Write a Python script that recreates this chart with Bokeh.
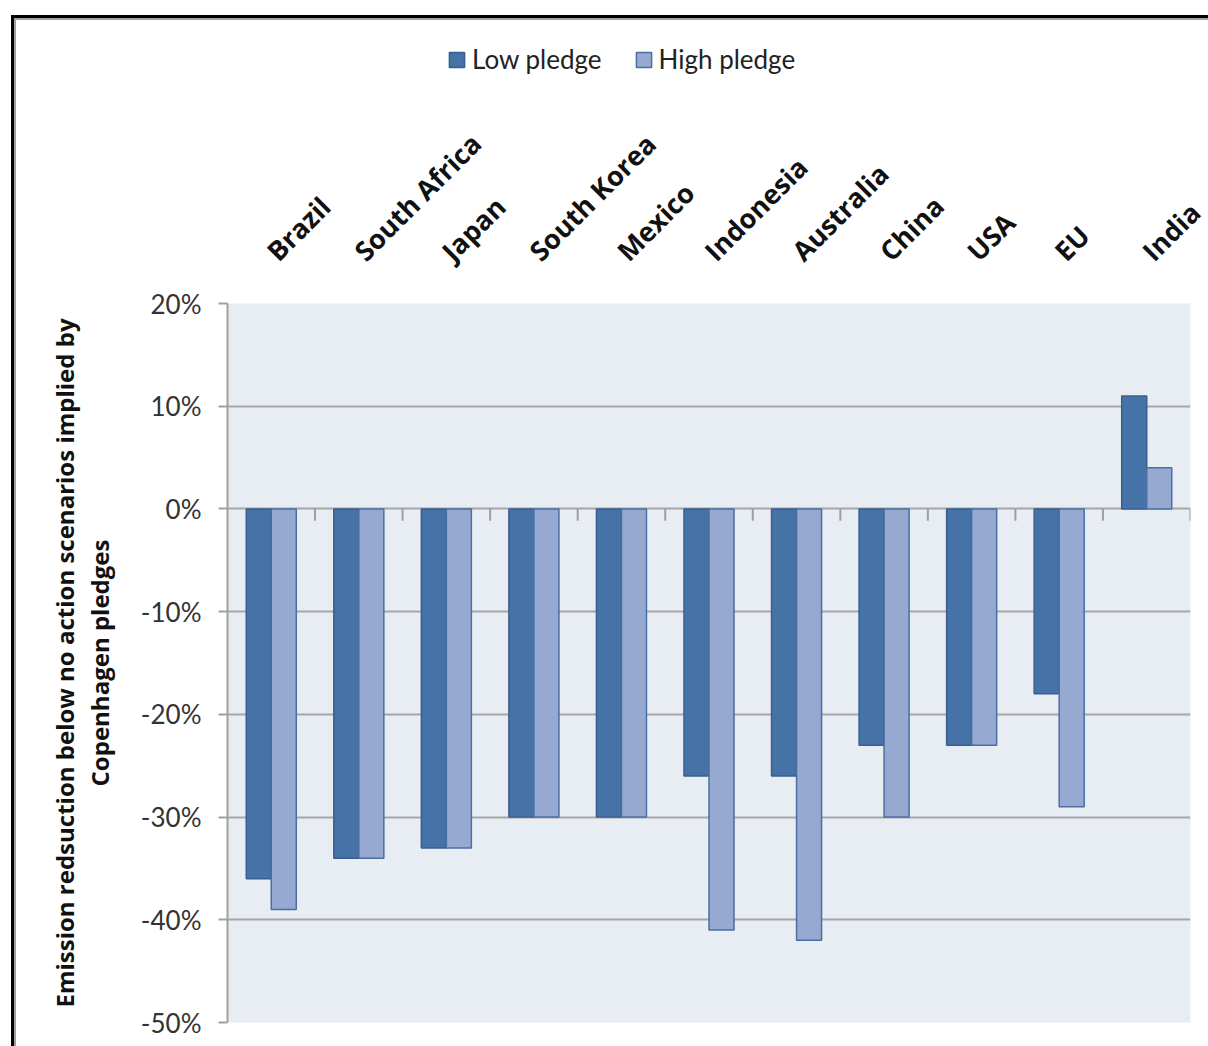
import math
from bokeh.plotting import figure
from bokeh.layouts import column
from bokeh.models import (FactorRange, Range1d, ColumnDataSource, Legend, LegendItem,
                          PrintfTickFormatter, FixedTicker)
from bokeh.transform import dodge
from bokeh.embed import file_html
from bokeh.resources import INLINE

countries = ["Brazil", "South Africa", "Japan", "South Korea", "Mexico", "Indonesia",
             "Australia", "China", "USA", "EU", "India"]
low_pledge = [-36, -34, -33, -30, -30, -26, -26, -23, -23, -18, 11]
high_pledge = [-39, -34, -33, -30, -30, -41, -42, -30, -23, -29, 4]
y_ticks = [20, 10, 0, -10, -20, -30, -40, -50]
series_names = ["Low pledge", "High pledge"]
y_title = "Emission redsuction below no action scenarios implied by\nCopenhagen pledges"

LOW_FILL, LOW_LINE = "#4572A7", "#3A5F8E"
HIGH_FILL, HIGH_LINE = "#95A9D1", "#4A6FA3"

W = 1192          # inner width (inside the chart frame)
TOP_H = 80        # legend strip height
MAIN_H = 1046 - 20 - TOP_H

# ---------------- legend strip ----------------
lf = figure(width=W, height=TOP_H, output_backend="svg", toolbar_location=None,
            min_border=0, x_range=Range1d(0, 1), y_range=Range1d(0, 1))
lf.axis.visible = False
lf.grid.visible = False
lf.outline_line_color = None
lf.background_fill_color = "white"
nan = float("nan")
swatch = ColumnDataSource(dict(x=[nan], top=[nan]))
d1 = lf.vbar(x="x", top="top", width=1, source=swatch, fill_color=LOW_FILL, line_color=LOW_LINE, line_width=1.5)
d2 = lf.vbar(x="x", top="top", width=1, source=swatch, fill_color=HIGH_FILL, line_color=HIGH_LINE, line_width=1.5)
legend = Legend(items=[LegendItem(label=series_names[0], renderers=[d1]),
                       LegendItem(label=series_names[1], renderers=[d2])],
                orientation="horizontal", location=(220, 25),
                glyph_width=19, glyph_height=19, label_standoff=6, spacing=32,
                padding=0, margin=0, border_line_color=None, background_fill_alpha=0,
                label_text_font="Lato", label_text_font_size="26px", label_text_color="#222222")
lf.add_layout(legend, "center")

# ---------------- main chart ----------------
p = figure(x_range=FactorRange(*countries), y_range=Range1d(-50, 20),
           width=W, height=MAIN_H, output_backend="svg", toolbar_location=None,
           x_axis_location="above",
           min_border_left=211, min_border_right=18, min_border_top=203, min_border_bottom=24)

p.background_fill_color = "#E8ECF3"
p.border_fill_color = "white"
p.outline_line_color = None

src = ColumnDataSource(dict(country=countries, low=low_pledge, high=high_pledge))
w = 25 / 87.5
p.vbar(x=dodge("country", -w / 2, range=p.x_range), top="low", bottom=0, width=w,
       source=src, fill_color=LOW_FILL, line_color=LOW_LINE, line_width=1.5)
p.vbar(x=dodge("country", w / 2, range=p.x_range), top="high", bottom=0, width=w,
       source=src, fill_color=HIGH_FILL, line_color=HIGH_LINE, line_width=1.5)

# category boundary ticks on the zero line
tick_src = ColumnDataSource(dict(country=countries, y0=[0] * len(countries), y1=[-1.15] * len(countries)))
p.segment(x0=dodge("country", 0.5, range=p.x_range), x1=dodge("country", 0.5, range=p.x_range),
          y0="y0", y1="y1", source=tick_src, line_color="#9E9E9E", line_width=2)

# grid
p.xgrid.visible = False
p.ygrid.ticker = FixedTicker(ticks=y_ticks)
p.ygrid.grid_line_color = "#A6A6A6"
p.ygrid.grid_line_width = 2
p.ygrid.level = "underlay"

# y axis
p.yaxis.ticker = FixedTicker(ticks=y_ticks)
p.yaxis.formatter = PrintfTickFormatter(format="%d%%")
p.yaxis.major_tick_out = 9
p.yaxis.major_tick_in = 0
p.yaxis.minor_tick_line_color = None
p.yaxis.axis_line_color = "#A0A0A0"
p.yaxis.axis_line_width = 2
p.yaxis.major_tick_line_color = "#A0A0A0"
p.yaxis.major_tick_line_width = 2
p.yaxis.major_label_text_font = "Lato"
p.yaxis.major_label_text_font_size = "26px"
p.yaxis.major_label_text_color = "#333333"
p.yaxis.major_label_standoff = 17
p.yaxis.axis_label = y_title
p.yaxis.axis_label_text_font = "Open Sans"
p.yaxis.axis_label_text_font_size = "24px"
p.yaxis.axis_label_text_font_style = "bold"
p.yaxis.axis_label_text_color = "#111111"
p.yaxis.axis_label_text_line_height = 1.05
p.yaxis.axis_label_standoff = 22

# x axis (category labels on top)
p.xaxis.axis_line_color = None
p.xaxis.major_tick_line_color = None
p.xaxis.minor_tick_line_color = None
p.xaxis.major_label_orientation = math.pi / 4
p.xaxis.major_label_text_font = "Open Sans"
p.xaxis.major_label_text_font_size = "27px"
p.xaxis.major_label_text_font_style = "bold"
p.xaxis.major_label_text_color = "#111111"
p.xaxis.major_label_standoff = 42

inner = column(lf, p, spacing=0,
               styles={"border-left": "2px solid #A0A0A0", "border-top": "2px solid #A0A0A0"})
layout = column(inner, spacing=0,
                styles={"border-left": "3px solid #000000", "border-top": "3px solid #000000",
                        "margin-left": "11px", "margin-top": "15px"})

open("out.html", "w").write(file_html(layout, INLINE))
